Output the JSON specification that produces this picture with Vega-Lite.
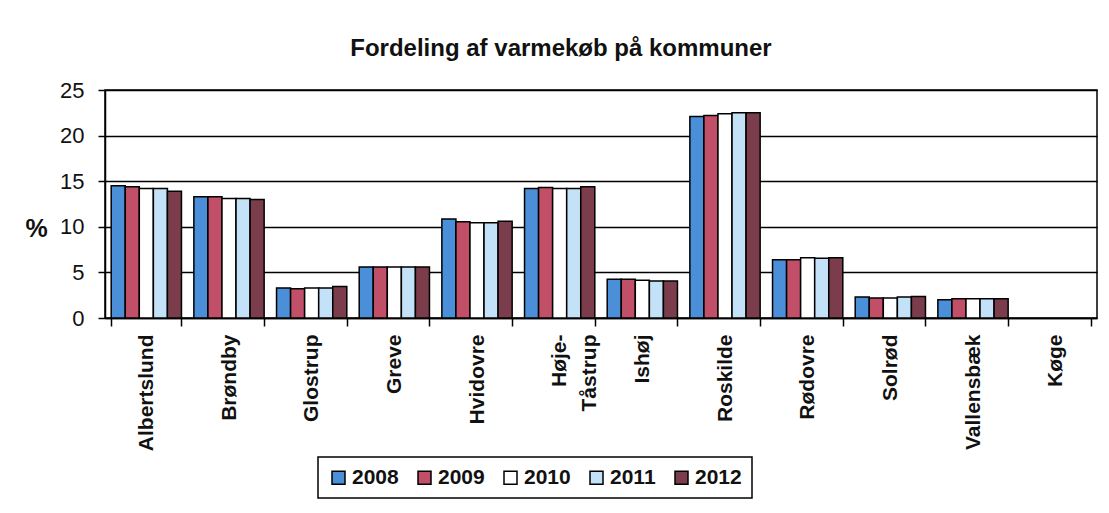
{
  "$schema": "https://vega.github.io/schema/vega-lite/v6.json",
  "width": 992,
  "height": 228,
  "autosize": {"type": "none"},
  "padding": {"left": 105, "top": 90, "right": 12, "bottom": 195},
  "background": "white",
  "title": {"text": "Fordeling af varmekøb på kommuner", "font": "Liberation Sans", "fontSize": 24, "fontWeight": "bold", "color": "#111", "offset": 18, "dx": -40},
  "data": {"values": [
    {"kommune": "Albertslund", "year": "2008", "pct": 14.5},
    {"kommune": "Albertslund", "year": "2009", "pct": 14.4},
    {"kommune": "Albertslund", "year": "2010", "pct": 14.2},
    {"kommune": "Albertslund", "year": "2011", "pct": 14.2},
    {"kommune": "Albertslund", "year": "2012", "pct": 13.9},
    {"kommune": "Brøndby", "year": "2008", "pct": 13.3},
    {"kommune": "Brøndby", "year": "2009", "pct": 13.3},
    {"kommune": "Brøndby", "year": "2010", "pct": 13.1},
    {"kommune": "Brøndby", "year": "2011", "pct": 13.1},
    {"kommune": "Brøndby", "year": "2012", "pct": 13.0},
    {"kommune": "Glostrup", "year": "2008", "pct": 3.3},
    {"kommune": "Glostrup", "year": "2009", "pct": 3.2},
    {"kommune": "Glostrup", "year": "2010", "pct": 3.3},
    {"kommune": "Glostrup", "year": "2011", "pct": 3.3},
    {"kommune": "Glostrup", "year": "2012", "pct": 3.45},
    {"kommune": "Greve", "year": "2008", "pct": 5.6},
    {"kommune": "Greve", "year": "2009", "pct": 5.6},
    {"kommune": "Greve", "year": "2010", "pct": 5.6},
    {"kommune": "Greve", "year": "2011", "pct": 5.6},
    {"kommune": "Greve", "year": "2012", "pct": 5.6},
    {"kommune": "Hvidovre", "year": "2008", "pct": 10.85},
    {"kommune": "Hvidovre", "year": "2009", "pct": 10.55},
    {"kommune": "Hvidovre", "year": "2010", "pct": 10.45},
    {"kommune": "Hvidovre", "year": "2011", "pct": 10.45},
    {"kommune": "Hvidovre", "year": "2012", "pct": 10.6},
    {"kommune": "Høje-Tåstrup", "year": "2008", "pct": 14.2},
    {"kommune": "Høje-Tåstrup", "year": "2009", "pct": 14.3},
    {"kommune": "Høje-Tåstrup", "year": "2010", "pct": 14.2},
    {"kommune": "Høje-Tåstrup", "year": "2011", "pct": 14.2},
    {"kommune": "Høje-Tåstrup", "year": "2012", "pct": 14.4},
    {"kommune": "Ishøj", "year": "2008", "pct": 4.25},
    {"kommune": "Ishøj", "year": "2009", "pct": 4.25},
    {"kommune": "Ishøj", "year": "2010", "pct": 4.15},
    {"kommune": "Ishøj", "year": "2011", "pct": 4.05},
    {"kommune": "Ishøj", "year": "2012", "pct": 4.05},
    {"kommune": "Roskilde", "year": "2008", "pct": 22.1},
    {"kommune": "Roskilde", "year": "2009", "pct": 22.2},
    {"kommune": "Roskilde", "year": "2010", "pct": 22.4},
    {"kommune": "Roskilde", "year": "2011", "pct": 22.5},
    {"kommune": "Roskilde", "year": "2012", "pct": 22.5},
    {"kommune": "Rødovre", "year": "2008", "pct": 6.4},
    {"kommune": "Rødovre", "year": "2009", "pct": 6.4},
    {"kommune": "Rødovre", "year": "2010", "pct": 6.6},
    {"kommune": "Rødovre", "year": "2011", "pct": 6.55},
    {"kommune": "Rødovre", "year": "2012", "pct": 6.6},
    {"kommune": "Solrød", "year": "2008", "pct": 2.3},
    {"kommune": "Solrød", "year": "2009", "pct": 2.2},
    {"kommune": "Solrød", "year": "2010", "pct": 2.2},
    {"kommune": "Solrød", "year": "2011", "pct": 2.3},
    {"kommune": "Solrød", "year": "2012", "pct": 2.35},
    {"kommune": "Vallensbæk", "year": "2008", "pct": 2.0},
    {"kommune": "Vallensbæk", "year": "2009", "pct": 2.1},
    {"kommune": "Vallensbæk", "year": "2010", "pct": 2.1},
    {"kommune": "Vallensbæk", "year": "2011", "pct": 2.1},
    {"kommune": "Vallensbæk", "year": "2012", "pct": 2.1}
  ]},
  "mark": {"type": "bar", "stroke": "black", "strokeWidth": 1.5},
  "encoding": {
    "x": {
      "field": "kommune", "type": "nominal",
      "scale": {"domain": ["Albertslund", "Brøndby", "Glostrup", "Greve", "Hvidovre", "Høje-Tåstrup", "Ishøj", "Roskilde", "Rødovre", "Solrød", "Vallensbæk", "Køge"], "paddingInner": 0.15, "paddingOuter": 0.075},
      "axis": {
        "title": null, "labelAngle": -90, "labelAlign": "right", "labelBaseline": "middle",
        "labelFont": "Liberation Sans", "labelFontSize": 21, "labelFontWeight": "bold", "labelColor": "#111",
        "labelPadding": 8, "tickBand": "extent", "tickSize": 8, "tickColor": "black", "tickWidth": 1.5,
        "domainColor": "black", "domainWidth": 1.5, "labelLineHeight": 30,
        "labelExpr": "datum.label == 'Høje-Tåstrup' ? ['Høje-', 'Tåstrup'] : datum.label"
      }
    },
    "xOffset": {"field": "year", "type": "nominal", "scale": {"paddingInner": 0, "paddingOuter": 0}},
    "y": {
      "field": "pct", "type": "quantitative",
      "scale": {"domain": [0, 25]},
      "axis": {
        "title": "%", "titleAngle": 0, "titleX": -69, "titleY": 138, "titleAlign": "center", "titleBaseline": "middle",
        "titleFont": "Liberation Sans", "titleFontSize": 25, "titleFontWeight": "bold", "titleColor": "#111",
        "values": [0, 5, 10, 15, 20, 25],
        "labelFont": "Liberation Sans", "labelFontSize": 22, "labelColor": "#111", "labelPadding": 14,
        "tickSize": 7, "tickColor": "black", "tickWidth": 1.5,
        "domainColor": "black", "domainWidth": 1.5,
        "grid": true, "gridColor": "black", "gridWidth": 1.5
      }
    },
    "fill": {
      "field": "year", "type": "nominal",
      "scale": {"domain": ["2008", "2009", "2010", "2011", "2012"], "range": ["#4a8fd8", "#c24f68", "#ffffff", "#c3e1f7", "#7b3d4b"]},
      "legend": {
        "title": null, "orient": "none", "direction": "horizontal", "legendX": 213, "legendY": 367,
        "symbolType": "square", "symbolSize": 169, "symbolStrokeColor": "black", "symbolStrokeWidth": 1.5,
        "labelFont": "Liberation Sans", "labelFontSize": 21, "labelFontWeight": "bold", "labelColor": "#111",
        "columnPadding": 15, "labelOffset": 3,
        "strokeColor": "black", "padding": 10, "fillColor": "white",
        "encode": {"legend": {"update": {"strokeWidth": {"value": 1.5}}}}
      }
    }
  },
  "config": {"view": {"stroke": "black", "strokeWidth": 1.5}}
}
